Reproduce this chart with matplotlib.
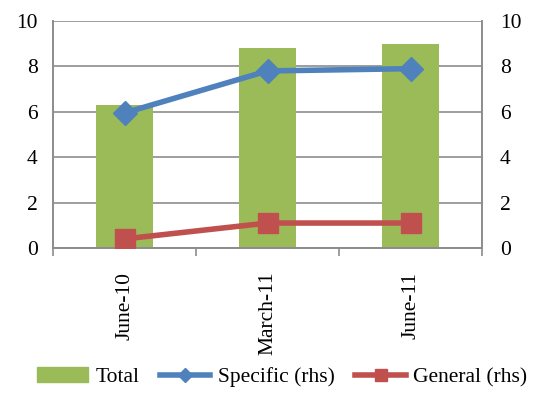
import matplotlib.pyplot as plt
import matplotlib.lines as mlines
import matplotlib.patches as mpatches
import numpy as np

categories = ["June-10", "March-11", "June-11"]
total = [6.3, 8.8, 9.0]
specific = [5.95, 7.8, 7.9]
general = [0.4, 1.1, 1.1]

plt.rcParams['font.family'] = ['Liberation Serif', 'DejaVu Serif']
FS = 15.5

GREEN = '#9bbb59'
BLUE = '#4f81bd'
RED = '#c0504d'
GRID = '#8c8c8c'

fig = plt.figure(figsize=(5.36, 3.96), dpi=100)
ax = fig.add_axes([53 / 536, 1 - 248 / 396, (482 - 53) / 536, (248 - 21) / 396])
ax2 = ax.twinx()

x = np.arange(len(categories))
ax.bar(x, total, width=0.4, color=GREEN, zorder=2)
ax2.plot(x, specific, color=BLUE, lw=4, marker='D', ms=12, zorder=3,
         solid_capstyle='round')
ax2.plot(x, general, color=RED, lw=4, marker='s', ms=14, zorder=3,
         solid_capstyle='round')

for a in (ax, ax2):
    a.set_ylim(0, 10)
    a.set_xlim(-0.5, 2.5)
    a.set_yticks(range(0, 11, 2))
    for s in a.spines.values():
        s.set_color(GRID)
        s.set_linewidth(1.2)
    a.spines['top'].set_visible(False)

ax.yaxis.grid(True, color=GRID, lw=1.2, zorder=0)
ax.set_axisbelow(True)
ax.tick_params(axis='y', length=0, labelsize=FS, pad=11)
ax2.tick_params(axis='y', length=0, labelsize=FS, pad=13)

# category labels centered, tick marks at category boundaries
ax.set_xticks(x)
ax.set_xticklabels(categories, rotation=90, fontsize=FS)
ax.tick_params(axis='x', which='major', length=0, pad=17)
ax.set_xticks([-0.5, 0.5, 1.5, 2.5], minor=True)
ax.tick_params(axis='x', which='minor', length=6, color=GRID, width=1.2)

handles = [
    mpatches.Patch(color=GREEN, label='Total'),
    mlines.Line2D([], [], color=BLUE, lw=4, marker='D', ms=7, label='Specific (rhs)'),
    mlines.Line2D([], [], color=RED, lw=4, marker='s', ms=8, label='General (rhs)'),
]
fig.legend(handles=handles, loc='center', bbox_to_anchor=(0.527, 1 - 377 / 396),
           ncol=3, frameon=False, fontsize=FS, handlelength=2.35,
           handletextpad=0.35, columnspacing=0.95, handleheight=0.7,
           borderaxespad=0, borderpad=0)

fig.savefig('out.png', dpi=100)
